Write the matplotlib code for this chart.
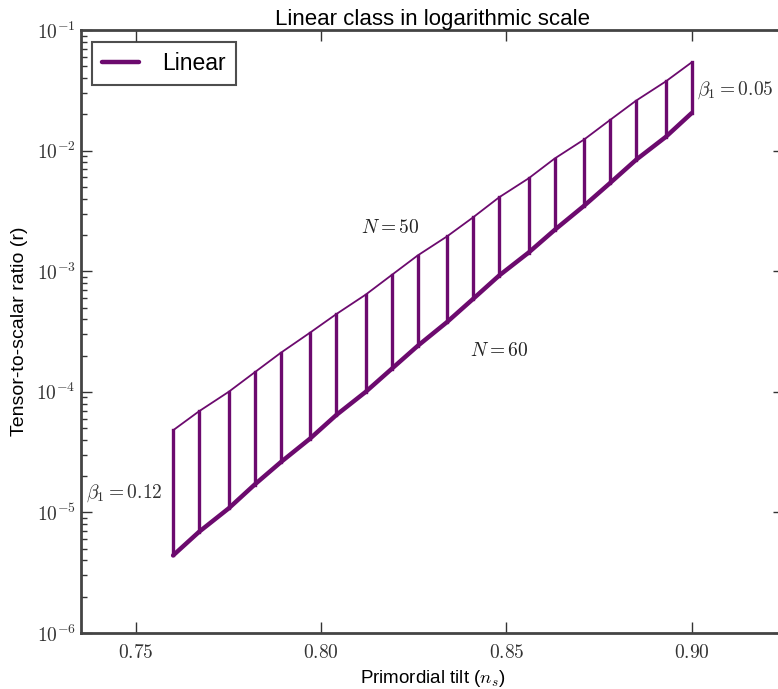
import matplotlib
matplotlib.use("Agg")
import matplotlib.pyplot as plt

plt.rcParams['font.family'] = ['Liberation Sans', 'DejaVu Sans']
plt.rcParams['mathtext.fontset'] = 'cm'

# spectral tilt at each beta_1 step (beta_1 = 0.12 ... 0.05)
ns = [0.760, 0.767, 0.775, 0.782, 0.789, 0.797, 0.804, 0.812, 0.819, 0.826,
      0.834, 0.841, 0.848, 0.856, 0.863, 0.871, 0.878, 0.885, 0.893, 0.900]
# tensor-to-scalar ratio, N = 50 (upper) and N = 60 (lower)
r_N50 = [4.8e-5, 6.9e-5, 1.0e-4, 1.45e-4, 2.1e-4, 3.1e-4, 4.4e-4, 6.4e-4, 9.3e-4, 1.35e-3,
         1.95e-3, 2.8e-3, 4.1e-3, 5.9e-3, 8.6e-3, 1.24e-2, 1.8e-2, 2.6e-2, 3.75e-2, 5.4e-2]
r_N60 = [4.4e-6, 6.9e-6, 1.08e-5, 1.7e-5, 2.6e-5, 4.1e-5, 6.4e-5, 1.0e-4, 1.55e-4, 2.4e-4,
         3.8e-4, 5.9e-4, 9.2e-4, 1.43e-3, 2.2e-3, 3.5e-3, 5.4e-3, 8.4e-3, 1.3e-2, 2.05e-2]

xticks = [0.75, 0.80, 0.85, 0.90]
yticks = [1e-6, 1e-5, 1e-4, 1e-3, 1e-2, 1e-1]
ytick_labels = [r'$10^{-6}$', r'$10^{-5}$', r'$10^{-4}$', r'$10^{-3}$', r'$10^{-2}$', r'$10^{-1}$']

col = '#6c0a6e'

fig = plt.figure(figsize=(7.78, 6.89), dpi=100)
ax = fig.add_axes([0.1035, 0.0813, 0.9045, 0.875])

ax.plot(ns, r_N50, color=col, lw=1.3)
ax.plot(ns, r_N60, color=col, lw=3.2, solid_capstyle='round', label='Linear')
for x, lo, hi in zip(ns, r_N60, r_N50):
    ax.plot([x, x], [lo, hi], color=col, lw=2.4)

ax.set_yscale('log')
ax.set_xlim(0.735, 0.925)
ax.set_ylim(1e-6, 1e-1)
ax.set_xticks(xticks)
ax.set_xticklabels(['$%.2f$' % v for v in xticks])
ax.set_yticks(yticks)
ax.set_yticklabels(ytick_labels)

ax.tick_params(which='both', direction='in', top=True, right=True, labelsize=14, colors='#333333')
ax.tick_params(which='major', length=8, width=1)
ax.tick_params(which='minor', length=4, width=1)
ax.tick_params(axis='x', pad=8)
for s in ax.spines.values():
    s.set_linewidth(2)
    s.set_color('#444444')

ax.text(0.9015, 3.2e-2, r'$\beta_1 = 0.05$', fontsize=14, color='#333333', va='center')
ax.text(0.7365, 1.45e-5, r'$\beta_1 = 0.12$', fontsize=14, color='#333333', va='center')
ax.text(0.8185, 2.3e-3, r'$N = 50$', fontsize=14, color='#222222', ha='center', va='center')
ax.text(0.848, 2.2e-4, r'$N = 60$', fontsize=14, color='#222222', ha='center', va='center')

ax.set_title('Linear class in logarithmic scale', fontsize=16, pad=4)
ax.set_xlabel(r'Primordial tilt ($n_s$)', fontsize=13.5, labelpad=4)
ax.set_ylabel('Tensor-to-scalar ratio (r)', fontsize=14, labelpad=6)

leg = ax.legend(loc='upper left', fontsize=16.5, fancybox=False, edgecolor='#222222',
                handlelength=1.6, handletextpad=1.0, borderpad=0.45, borderaxespad=0.5)
leg.get_frame().set_linewidth(1.5)

fig.savefig('out.png', dpi=100)
